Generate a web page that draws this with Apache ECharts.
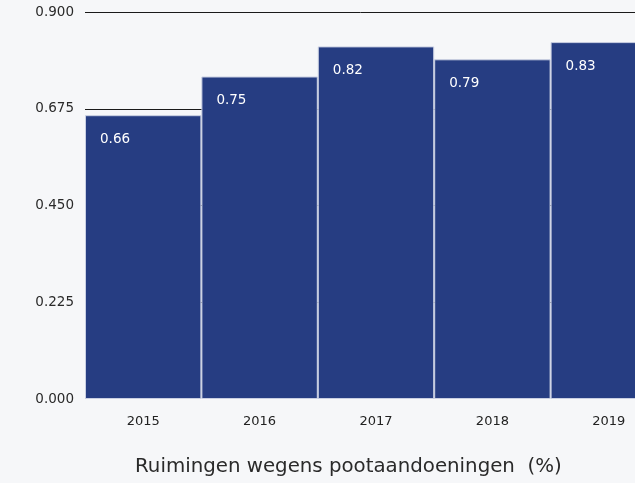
<!DOCTYPE html>
<html><head><meta charset="utf-8">
<script src="https://cdn.jsdelivr.net/npm/echarts@6/dist/echarts.min.js"></script>
<style>html,body{margin:0;padding:0;background:#f6f7f9;}#c{width:635px;height:483px;}</style>
</head><body><div id="c"></div>
<script>
const categories = ['2015','2016','2017','2018','2019'];
const values = [0.66, 0.75, 0.82, 0.79, 0.83];
const yTicks = [0, 0.225, 0.45, 0.675, 0.9];
const xTitle = 'Ruimingen wegens pootaandoeningen  (%)';

const F = 'DejaVu Sans';
const chart = echarts.init(document.getElementById('c'));
chart.setOption({
  backgroundColor: '#f6f7f9',
  animation: false,
  grid: {left: 85, width: 582, top: 12, bottom: 84, containLabel: false, outerBoundsMode: 'none'},
  xAxis: {
    type: 'category', data: categories,
    axisLine: {show: false}, axisTick: {show: false},
    axisLabel: {color: '#222', fontSize: 13, margin: 16, fontFamily: F}
  },
  yAxis: {
    type: 'value', min: yTicks[0], max: yTicks[yTicks.length-1], interval: 0.225,
    axisLine: {show: false}, axisTick: {show: false},
    axisLabel: {color: '#2a2a2a', fontSize: 13.5, margin: 11, fontFamily: F,
      formatter: v => v.toFixed(3)},
    splitLine: {show: true, showMinLine: false, lineStyle: {color: '#1a1a1a', width: 1}}
  },
  series: [{
    type: 'bar', data: values, barCategoryGap: 0,
    itemStyle: {color: '#263d82', borderColor: '#c9cfe2', borderWidth: 1},
    label: {show: true, position: [15, 17], color: '#fff', fontSize: 13.5,
      fontFamily: F, formatter: p => p.value.toFixed(2)}
  }],
  graphic: [{
    type: 'text', left: 135, top: 457,
    style: {text: xTitle, fill: '#2a2a2a', fontSize: 19.8, fontFamily: F}
  }]
});
</script></body></html>
